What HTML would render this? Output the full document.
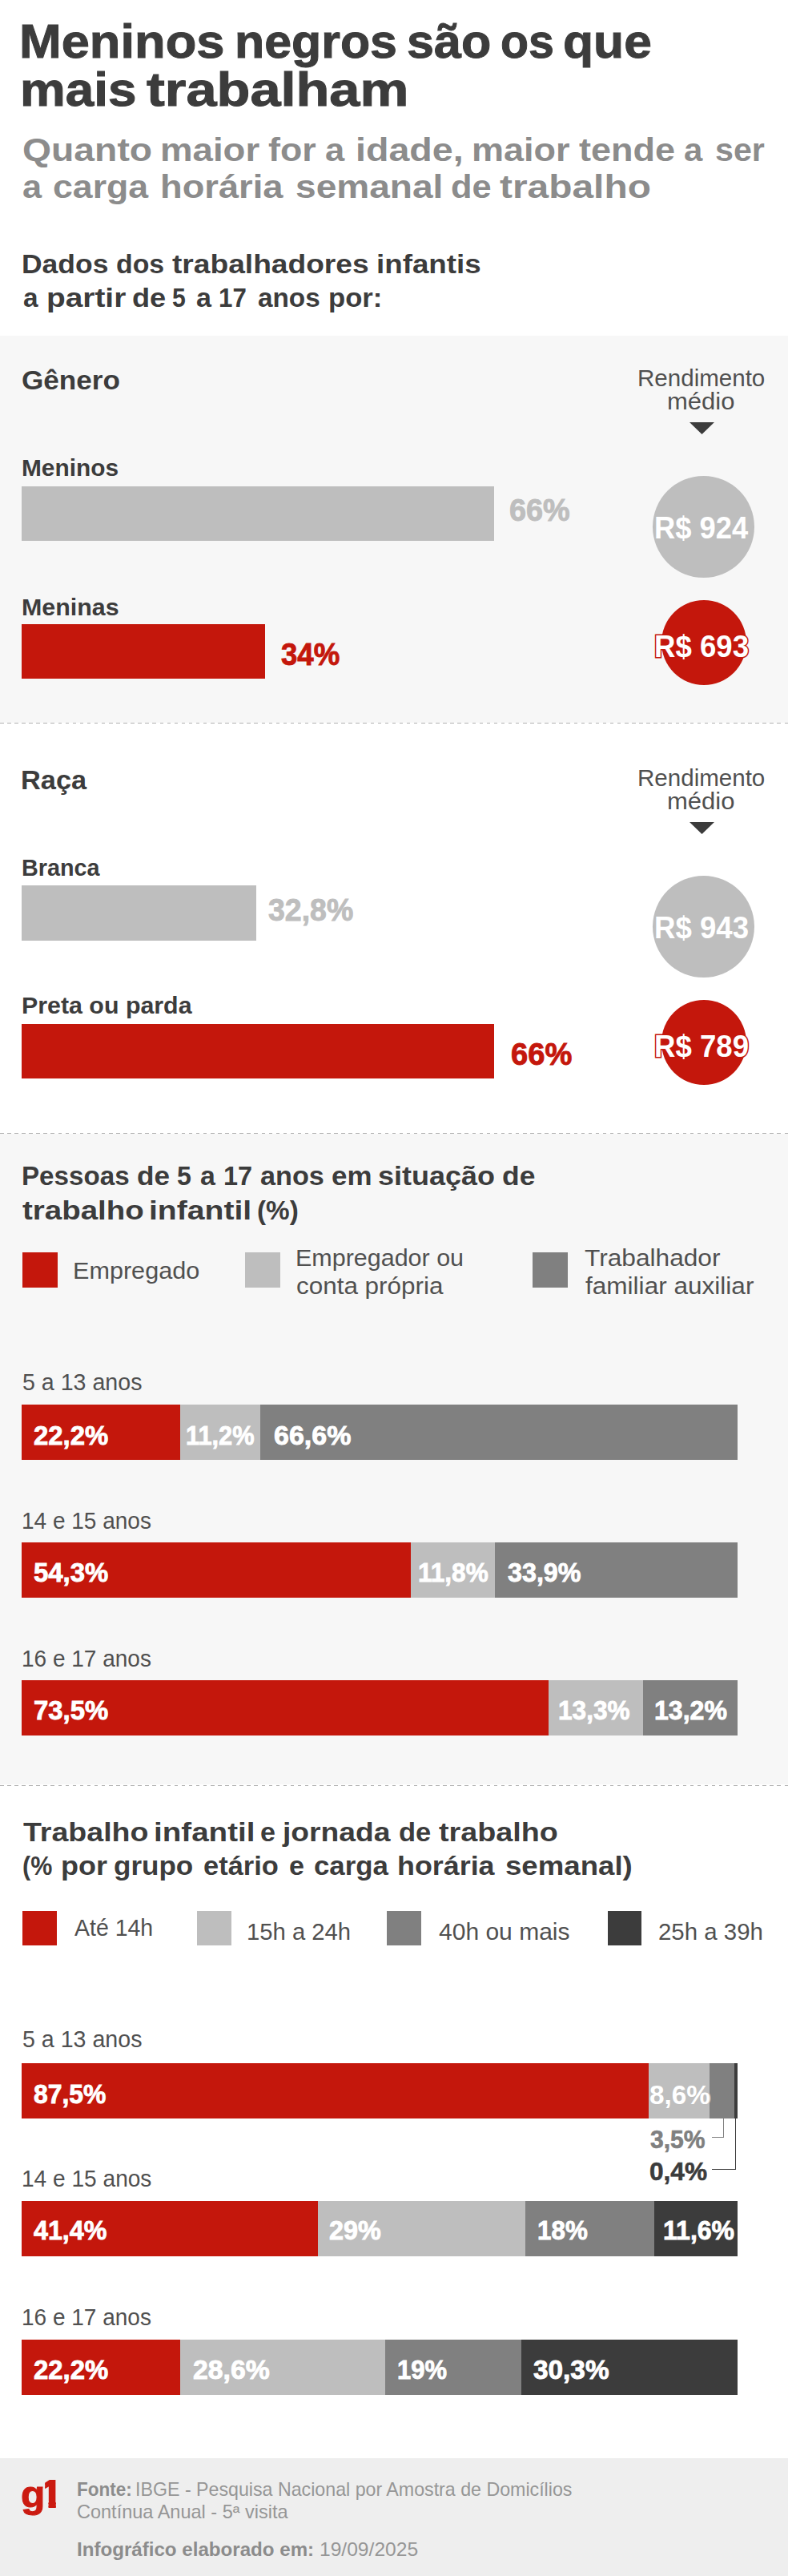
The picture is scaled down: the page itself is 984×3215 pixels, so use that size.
<!DOCTYPE html>
<html lang="pt-BR"><head><meta charset="utf-8"><title>Meninos negros são os que mais trabalham</title>
<style>
html,body{margin:0;padding:0;background:#fff}
body{width:984px;height:3215px;position:relative;overflow:hidden;font-family:'Liberation Sans', sans-serif;}
.a{position:absolute}
.c{border-radius:50%}
.t{position:absolute;white-space:pre;transform-origin:0 0;line-height:1;margin:0}
.dot{left:-0.5px;width:985px;height:1.5px;background:repeating-linear-gradient(90deg,#b2b2b2 0 4.5px,transparent 4.5px 9.07px)}
b{font-weight:bold}
</style></head><body>
<div class="a" style="left:0.0px;top:418.6px;width:984.0px;height:483.4px;background:#f7f7f7;"></div>
<div class="a" style="left:0.0px;top:1415.4px;width:984.0px;height:812.0px;background:#f7f7f7;"></div>
<div class="a" style="left:0.0px;top:3068.0px;width:984.0px;height:147.0px;background:#eeeeee;"></div>
<div class="a" style="left:27.0px;top:606.6px;width:590.0px;height:68.4px;background:#bebebe;"></div>
<div class="a" style="left:27.0px;top:778.8px;width:304.0px;height:68.7px;background:#c4170c;"></div>
<div class="a" style="left:27.0px;top:1105.3px;width:293.0px;height:68.4px;background:#bebebe;"></div>
<div class="a" style="left:27.0px;top:1277.8px;width:590.0px;height:68.7px;background:#c4170c;"></div>
<div class="a" style="left:28.0px;top:1563.0px;width:43.6px;height:43.5px;background:#c4170c;"></div>
<div class="a" style="left:306.2px;top:1563.0px;width:43.5px;height:43.5px;background:#bebebe;"></div>
<div class="a" style="left:665.1px;top:1563.0px;width:43.5px;height:43.5px;background:#808080;"></div>
<div class="a" style="left:27.0px;top:1753.4px;width:198.3px;height:68.5px;background:#c4170c;"></div>
<div class="a" style="left:225.3px;top:1753.4px;width:99.7px;height:68.5px;background:#bebebe;"></div>
<div class="a" style="left:325.0px;top:1753.4px;width:596.2px;height:68.5px;background:#808080;"></div>
<div class="a" style="left:27.0px;top:1925.1px;width:485.5px;height:68.5px;background:#c4170c;"></div>
<div class="a" style="left:512.5px;top:1925.1px;width:105.4px;height:68.5px;background:#bebebe;"></div>
<div class="a" style="left:617.9px;top:1925.1px;width:303.3px;height:68.5px;background:#808080;"></div>
<div class="a" style="left:27.0px;top:2097.2px;width:657.5px;height:68.5px;background:#c4170c;"></div>
<div class="a" style="left:684.5px;top:2097.2px;width:118.7px;height:68.5px;background:#bebebe;"></div>
<div class="a" style="left:803.2px;top:2097.2px;width:118.0px;height:68.5px;background:#808080;"></div>
<div class="a" style="left:28.3px;top:2385.4px;width:43.0px;height:43.1px;background:#c4170c;"></div>
<div class="a" style="left:246.0px;top:2385.4px;width:43.0px;height:43.1px;background:#bebebe;"></div>
<div class="a" style="left:483.3px;top:2385.4px;width:42.7px;height:43.1px;background:#808080;"></div>
<div class="a" style="left:758.7px;top:2385.4px;width:42.8px;height:43.1px;background:#3c3c3c;"></div>
<div class="a" style="left:27.0px;top:2575.4px;width:782.5px;height:68.5px;background:#c4170c;"></div>
<div class="a" style="left:809.5px;top:2575.4px;width:76.8px;height:68.5px;background:#bebebe;"></div>
<div class="a" style="left:886.3px;top:2575.4px;width:31.1px;height:68.5px;background:#808080;"></div>
<div class="a" style="left:917.4px;top:2575.4px;width:3.4px;height:68.5px;background:#3c3c3c;"></div>
<div class="a" style="left:27.0px;top:2747.4px;width:370.2px;height:68.5px;background:#c4170c;"></div>
<div class="a" style="left:397.2px;top:2747.4px;width:258.8px;height:68.5px;background:#bebebe;"></div>
<div class="a" style="left:656.0px;top:2747.4px;width:161.3px;height:68.5px;background:#808080;"></div>
<div class="a" style="left:817.3px;top:2747.4px;width:103.9px;height:68.5px;background:#3c3c3c;"></div>
<div class="a" style="left:27.0px;top:2920.2px;width:198.3px;height:68.5px;background:#c4170c;"></div>
<div class="a" style="left:225.3px;top:2920.2px;width:255.3px;height:68.5px;background:#bebebe;"></div>
<div class="a" style="left:480.6px;top:2920.2px;width:170.4px;height:68.5px;background:#808080;"></div>
<div class="a" style="left:651.0px;top:2920.2px;width:270.2px;height:68.5px;background:#3c3c3c;"></div>
<svg class="a" style="left:861px;top:527px" width="31" height="15" viewBox="0 0 31 15"><path d="M0 0H31L15.5 15Z" fill="#3c3c3c"/></svg>
<div class="a c" style="left:814.5px;top:593.5px;width:127.0px;height:127.0px;background:#bebebe"></div>
<div class="a c" style="left:825.5px;top:749.2px;width:106px;height:106px;background:#c4170c"></div>
<svg class="a" style="left:861px;top:1026px" width="31" height="15" viewBox="0 0 31 15"><path d="M0 0H31L15.5 15Z" fill="#3c3c3c"/></svg>
<div class="a c" style="left:814.5px;top:1092.5px;width:127.0px;height:127.0px;background:#bebebe"></div>
<div class="a c" style="left:825.5px;top:1248.2px;width:106px;height:106px;background:#c4170c"></div>
<div class="a dot" style="top:901.85px"></div>
<div class="a dot" style="top:1413.55px"></div>
<div class="a dot" style="top:2227.75px"></div>
<div class="a" style="left:888.5px;top:2643.5px;width:15.8px;height:24.8px;border-right:1.4px solid #808080;border-bottom:1.4px solid #808080;box-sizing:border-box"></div>
<div class="a" style="left:888.5px;top:2643.5px;width:30.8px;height:64.6px;border-right:1.4px solid #3c3c3c;border-bottom:1.4px solid #3c3c3c;box-sizing:border-box"></div>
<div class="t" style="left:50.43px;top:3087.84px;font-size:48.5px;font-weight:bold;color:#cb1a10;-webkit-text-stroke:2px #cb1a10;paint-order:stroke fill;clip-path:polygon(5.77px 0,19.37px 0,19.37px 48.5px,10.12px 48.5px,10.12px 33.71px,5.77px 33.71px)">1</div>
<div class="t" style="left:23.98px;top:22.01px;font-size:60px;color:#3c3c3c;transform:scaleX(1.0541);font-weight:bold;-webkit-text-stroke:1.0px #3c3c3c;paint-order:stroke fill;">Meninos</div>
<div class="t" style="left:292.76px;top:22.01px;font-size:60px;color:#3c3c3c;transform:scaleX(1.0145);font-weight:bold;-webkit-text-stroke:1.0px #3c3c3c;paint-order:stroke fill;">negros</div>
<div class="t" style="left:507.76px;top:22.01px;font-size:60px;color:#3c3c3c;transform:scaleX(1.0177);font-weight:bold;-webkit-text-stroke:1.0px #3c3c3c;paint-order:stroke fill;">são</div>
<div class="t" style="left:624.89px;top:22.01px;font-size:60px;color:#3c3c3c;transform:scaleX(0.9551);font-weight:bold;-webkit-text-stroke:1.0px #3c3c3c;paint-order:stroke fill;">os</div>
<div class="t" style="left:703.42px;top:22.01px;font-size:60px;color:#3c3c3c;transform:scaleX(1.0387);font-weight:bold;-webkit-text-stroke:1.0px #3c3c3c;paint-order:stroke fill;">que</div>
<div class="t" style="left:25.31px;top:82.01px;font-size:60px;color:#3c3c3c;transform:scaleX(1.0633);font-weight:bold;-webkit-text-stroke:1.0px #3c3c3c;paint-order:stroke fill;">mais</div>
<div class="t" style="left:183.00px;top:82.01px;font-size:60px;color:#3c3c3c;transform:scaleX(1.1415);font-weight:bold;-webkit-text-stroke:1.0px #3c3c3c;paint-order:stroke fill;">trabalham</div>
<div class="t" style="left:28.07px;top:167.09px;font-size:41px;color:#8c8c8c;transform:scaleX(1.1298);font-weight:bold;">Quanto</div>
<div class="t" style="left:200.38px;top:167.09px;font-size:41px;color:#8c8c8c;transform:scaleX(1.1122);font-weight:bold;">maior</div>
<div class="t" style="left:335.30px;top:167.09px;font-size:41px;color:#8c8c8c;transform:scaleX(1.0915);font-weight:bold;">for</div>
<div class="t" style="left:406.14px;top:167.09px;font-size:41px;color:#8c8c8c;transform:scaleX(1.0609);font-weight:bold;">a</div>
<div class="t" style="left:443.73px;top:167.09px;font-size:41px;color:#8c8c8c;transform:scaleX(1.1360);font-weight:bold;">idade,</div>
<div class="t" style="left:588.60px;top:167.09px;font-size:41px;color:#8c8c8c;transform:scaleX(1.0976);font-weight:bold;">maior</div>
<div class="t" style="left:723.40px;top:167.09px;font-size:41px;color:#8c8c8c;transform:scaleX(1.0972);font-weight:bold;">tende</div>
<div class="t" style="left:854.48px;top:167.09px;font-size:41px;color:#8c8c8c;transform:scaleX(1.0217);font-weight:bold;">a</div>
<div class="t" style="left:892.50px;top:167.09px;font-size:41px;color:#8c8c8c;transform:scaleX(1.0049);font-weight:bold;">ser</div>
<div class="t" style="left:27.84px;top:212.79px;font-size:41px;color:#8c8c8c;transform:scaleX(1.0565);font-weight:bold;">a</div>
<div class="t" style="left:65.91px;top:212.79px;font-size:41px;color:#8c8c8c;transform:scaleX(1.0894);font-weight:bold;">carga</div>
<div class="t" style="left:200.19px;top:212.79px;font-size:41px;color:#8c8c8c;transform:scaleX(1.1042);font-weight:bold;">horária</div>
<div class="t" style="left:368.78px;top:212.79px;font-size:41px;color:#8c8c8c;transform:scaleX(1.1238);font-weight:bold;">semanal</div>
<div class="t" style="left:563.14px;top:212.79px;font-size:41px;color:#8c8c8c;transform:scaleX(1.0577);font-weight:bold;">de</div>
<div class="t" style="left:624.30px;top:212.79px;font-size:41px;color:#8c8c8c;transform:scaleX(1.1681);font-weight:bold;">trabalho</div>
<div class="t" style="left:26.98px;top:312.84px;font-size:33.5px;color:#3c3c3c;transform:scaleX(1.0586);font-weight:bold;">Dados</div>
<div class="t" style="left:145.49px;top:312.84px;font-size:33.5px;color:#3c3c3c;transform:scaleX(1.0099);font-weight:bold;">dos</div>
<div class="t" style="left:214.70px;top:312.84px;font-size:33.5px;color:#3c3c3c;transform:scaleX(1.1086);font-weight:bold;">trabalhadores</div>
<div class="t" style="left:469.61px;top:312.84px;font-size:33.5px;color:#3c3c3c;transform:scaleX(1.0971);font-weight:bold;">infantis</div>
<div class="t" style="left:28.50px;top:355.04px;font-size:33.5px;color:#3c3c3c;transform:scaleX(0.9947);font-weight:bold;">a</div>
<div class="t" style="left:58.28px;top:355.04px;font-size:33.5px;color:#3c3c3c;transform:scaleX(1.1592);font-weight:bold;">partir</div>
<div class="t" style="left:165.42px;top:355.04px;font-size:33.5px;color:#3c3c3c;transform:scaleX(1.0811);font-weight:bold;">de</div>
<div class="t" style="left:215.20px;top:355.04px;font-size:33.5px;color:#3c3c3c;transform:scaleX(0.9000);font-weight:bold;">5</div>
<div class="t" style="left:244.60px;top:355.04px;font-size:33.5px;color:#3c3c3c;transform:scaleX(1.0158);font-weight:bold;">a</div>
<div class="t" style="left:273.13px;top:355.04px;font-size:33.5px;color:#3c3c3c;transform:scaleX(0.9327);font-weight:bold;">17</div>
<div class="t" style="left:321.50px;top:355.04px;font-size:33.5px;color:#3c3c3c;transform:scaleX(0.9941);font-weight:bold;">anos</div>
<div class="t" style="left:409.73px;top:355.04px;font-size:33.5px;color:#3c3c3c;transform:scaleX(1.0340);font-weight:bold;">por:</div>
<div class="t" style="left:26.92px;top:459.29px;font-size:32.5px;color:#3c3c3c;transform:scaleX(1.0810);font-weight:bold;">Gênero</div>
<div class="t" style="left:795.60px;top:457.03px;font-size:29.5px;color:#505050;transform:scaleX(1.0015);font-weight:normal;">Rendimento</div>
<div class="t" style="left:833.45px;top:486.43px;font-size:29.5px;color:#505050;transform:scaleX(1.0514);font-weight:normal;">médio</div>
<div class="t" style="left:26.57px;top:570.35px;font-size:29px;color:#3c3c3c;transform:scaleX(1.0296);font-weight:bold;">Meninos</div>
<div class="t" style="left:636.00px;top:618.33px;font-size:38px;color:#bebebe;transform:scaleX(0.9964);font-weight:bold;-webkit-text-stroke:0.9px #bebebe;paint-order:stroke fill;">66%</div>
<div class="t" style="left:26.55px;top:743.85px;font-size:29px;color:#3c3c3c;transform:scaleX(1.0483);font-weight:bold;">Meninas</div>
<div class="t" style="left:351.00px;top:797.63px;font-size:38px;color:#c4170c;transform:scaleX(0.9632);font-weight:bold;-webkit-text-stroke:0.9px #c4170c;paint-order:stroke fill;">34%</div>
<div class="t" style="left:817.14px;top:639.39px;font-size:39px;color:#fff;transform:scaleX(0.9309);font-weight:bold;-webkit-text-stroke:2px #bebebe;paint-order:stroke fill;">R$ 924</div>
<div class="t" style="left:817.12px;top:787.09px;font-size:39px;color:#fff;transform:scaleX(0.9385);font-weight:bold;-webkit-text-stroke:3.2px #c4170c;paint-order:stroke fill;">R$ 693</div>
<div class="t" style="left:25.89px;top:958.29px;font-size:32.5px;color:#3c3c3c;transform:scaleX(1.0572);font-weight:bold;">Raça</div>
<div class="t" style="left:795.60px;top:956.03px;font-size:29.5px;color:#505050;transform:scaleX(1.0015);font-weight:normal;">Rendimento</div>
<div class="t" style="left:833.45px;top:985.43px;font-size:29.5px;color:#505050;transform:scaleX(1.0514);font-weight:normal;">médio</div>
<div class="t" style="left:26.61px;top:1068.65px;font-size:29px;color:#3c3c3c;transform:scaleX(0.9919);font-weight:bold;">Branca</div>
<div class="t" style="left:334.60px;top:1117.33px;font-size:38px;color:#bebebe;transform:scaleX(0.9854);font-weight:bold;-webkit-text-stroke:0.9px #bebebe;paint-order:stroke fill;">32,8%</div>
<div class="t" style="left:26.55px;top:1241.05px;font-size:29px;color:#3c3c3c;transform:scaleX(1.0467);font-weight:bold;">Preta ou parda</div>
<div class="t" style="left:637.50px;top:1296.63px;font-size:38px;color:#c4170c;transform:scaleX(1.0031);font-weight:bold;-webkit-text-stroke:0.9px #c4170c;paint-order:stroke fill;">66%</div>
<div class="t" style="left:817.12px;top:1138.39px;font-size:39px;color:#fff;transform:scaleX(0.9385);font-weight:bold;-webkit-text-stroke:2px #bebebe;paint-order:stroke fill;">R$ 943</div>
<div class="t" style="left:817.12px;top:1286.09px;font-size:39px;color:#fff;transform:scaleX(0.9385);font-weight:bold;-webkit-text-stroke:3.2px #c4170c;paint-order:stroke fill;">R$ 789</div>
<div class="t" style="left:27.12px;top:1451.44px;font-size:33.5px;color:#3c3c3c;transform:scaleX(0.9900);font-weight:bold;">Pessoas</div>
<div class="t" style="left:171.45px;top:1451.44px;font-size:33.5px;color:#3c3c3c;transform:scaleX(1.0490);font-weight:bold;">de</div>
<div class="t" style="left:220.94px;top:1451.44px;font-size:33.5px;color:#3c3c3c;transform:scaleX(0.9588);font-weight:bold;">5</div>
<div class="t" style="left:250.40px;top:1451.44px;font-size:33.5px;color:#3c3c3c;transform:scaleX(1.0105);font-weight:bold;">a</div>
<div class="t" style="left:278.87px;top:1451.44px;font-size:33.5px;color:#3c3c3c;transform:scaleX(0.9673);font-weight:bold;">17</div>
<div class="t" style="left:325.40px;top:1451.44px;font-size:33.5px;color:#3c3c3c;transform:scaleX(1.0212);font-weight:bold;">anos</div>
<div class="t" style="left:413.66px;top:1451.44px;font-size:33.5px;color:#3c3c3c;transform:scaleX(1.0431);font-weight:bold;">em</div>
<div class="t" style="left:472.43px;top:1451.44px;font-size:33.5px;color:#3c3c3c;transform:scaleX(1.0740);font-weight:bold;">situação</div>
<div class="t" style="left:626.94px;top:1451.44px;font-size:33.5px;color:#3c3c3c;transform:scaleX(1.0570);font-weight:bold;">de</div>
<div class="t" style="left:28.10px;top:1493.94px;font-size:33.5px;color:#3c3c3c;transform:scaleX(1.1482);font-weight:bold;">trabalho</div>
<div class="t" style="left:186.07px;top:1493.94px;font-size:33.5px;color:#3c3c3c;transform:scaleX(1.1670);font-weight:bold;">infantil</div>
<div class="t" style="left:320.91px;top:1493.94px;font-size:33.5px;color:#3c3c3c;transform:scaleX(0.9931);font-weight:bold;">(%)</div>
<div class="t" style="left:90.93px;top:1571.23px;font-size:29.5px;color:#505050;transform:scaleX(1.0373);font-weight:normal;">Empregado</div>
<div class="t" style="left:369.43px;top:1554.73px;font-size:29.5px;color:#505050;transform:scaleX(1.0328);font-weight:normal;">Empregador ou</div>
<div class="t" style="left:369.93px;top:1590.23px;font-size:29.5px;color:#505050;transform:scaleX(1.0653);font-weight:normal;">conta própria</div>
<div class="t" style="left:729.50px;top:1554.73px;font-size:29.5px;color:#505050;transform:scaleX(1.0730);font-weight:normal;">Trabalhador</div>
<div class="t" style="left:730.80px;top:1590.23px;font-size:29.5px;color:#505050;transform:scaleX(1.0696);font-weight:normal;">familiar auxiliar</div>
<div class="t" style="left:27.51px;top:1711.25px;font-size:29px;color:#505050;transform:scaleX(0.9862);font-weight:normal;">5 a 13 anos</div>
<div class="t" style="left:41.83px;top:1773.62px;font-size:34px;color:#fff;transform:scaleX(0.9667);font-weight:bold;-webkit-text-stroke:0.9px #fff;paint-order:stroke fill;">22,2%</div>
<div class="t" style="left:231.69px;top:1773.62px;font-size:34px;color:#fff;transform:scaleX(0.9047);font-weight:bold;-webkit-text-stroke:0.9px #fff;paint-order:stroke fill;">11,2%</div>
<div class="t" style="left:341.60px;top:1773.62px;font-size:34px;color:#fff;transform:scaleX(1.0003);font-weight:bold;-webkit-text-stroke:0.9px #fff;paint-order:stroke fill;">66,6%</div>
<div class="t" style="left:26.57px;top:1883.55px;font-size:29px;color:#505050;transform:scaleX(0.9655);font-weight:normal;">14 e 15 anos</div>
<div class="t" style="left:41.83px;top:1945.32px;font-size:34px;color:#fff;transform:scaleX(0.9667);font-weight:bold;-webkit-text-stroke:0.9px #fff;paint-order:stroke fill;">54,3%</div>
<div class="t" style="left:522.15px;top:1945.32px;font-size:34px;color:#fff;transform:scaleX(0.9274);font-weight:bold;-webkit-text-stroke:0.9px #fff;paint-order:stroke fill;">11,8%</div>
<div class="t" style="left:633.70px;top:1945.32px;font-size:34px;color:#fff;transform:scaleX(0.9493);font-weight:bold;-webkit-text-stroke:0.9px #fff;paint-order:stroke fill;">33,9%</div>
<div class="t" style="left:26.57px;top:2055.75px;font-size:29px;color:#505050;transform:scaleX(0.9655);font-weight:normal;">16 e 17 anos</div>
<div class="t" style="left:41.83px;top:2117.42px;font-size:34px;color:#fff;transform:scaleX(0.9667);font-weight:bold;-webkit-text-stroke:0.9px #fff;paint-order:stroke fill;">73,5%</div>
<div class="t" style="left:696.64px;top:2117.42px;font-size:34px;color:#fff;transform:scaleX(0.9291);font-weight:bold;-webkit-text-stroke:0.9px #fff;paint-order:stroke fill;">13,3%</div>
<div class="t" style="left:816.51px;top:2117.42px;font-size:34px;color:#fff;transform:scaleX(0.9429);font-weight:bold;-webkit-text-stroke:0.9px #fff;paint-order:stroke fill;">13,2%</div>
<div class="t" style="left:28.50px;top:2270.44px;font-size:33.5px;color:#3c3c3c;transform:scaleX(1.1204);font-weight:bold;">Trabalho</div>
<div class="t" style="left:192.20px;top:2270.44px;font-size:33.5px;color:#3c3c3c;transform:scaleX(1.1518);font-weight:bold;">infantil</div>
<div class="t" style="left:325.38px;top:2270.44px;font-size:33.5px;color:#3c3c3c;transform:scaleX(1.0176);font-weight:bold;">e</div>
<div class="t" style="left:352.91px;top:2270.44px;font-size:33.5px;color:#3c3c3c;transform:scaleX(1.1106);font-weight:bold;">jornada</div>
<div class="t" style="left:497.87px;top:2270.44px;font-size:33.5px;color:#3c3c3c;transform:scaleX(1.0303);font-weight:bold;">de</div>
<div class="t" style="left:547.60px;top:2270.44px;font-size:33.5px;color:#3c3c3c;transform:scaleX(1.1261);font-weight:bold;">trabalho</div>
<div class="t" style="left:28.19px;top:2312.44px;font-size:33.5px;color:#3c3c3c;transform:scaleX(0.9092);font-weight:bold;">(%</div>
<div class="t" style="left:75.75px;top:2312.44px;font-size:33.5px;color:#3c3c3c;transform:scaleX(1.0746);font-weight:bold;">por</div>
<div class="t" style="left:142.45px;top:2312.44px;font-size:33.5px;color:#3c3c3c;transform:scaleX(1.0457);font-weight:bold;">grupo</div>
<div class="t" style="left:254.37px;top:2312.44px;font-size:33.5px;color:#3c3c3c;transform:scaleX(1.0283);font-weight:bold;">etário</div>
<div class="t" style="left:360.88px;top:2312.44px;font-size:33.5px;color:#3c3c3c;transform:scaleX(1.0176);font-weight:bold;">e</div>
<div class="t" style="left:392.36px;top:2312.44px;font-size:33.5px;color:#3c3c3c;transform:scaleX(1.0399);font-weight:bold;">carga</div>
<div class="t" style="left:495.76px;top:2312.44px;font-size:33.5px;color:#3c3c3c;transform:scaleX(1.0702);font-weight:bold;">horária</div>
<div class="t" style="left:630.51px;top:2312.44px;font-size:33.5px;color:#3c3c3c;transform:scaleX(1.0931);font-weight:bold;">semanal)</div>
<div class="t" style="left:93.30px;top:2392.05px;font-size:29px;color:#505050;transform:scaleX(0.9824);font-weight:normal;">Até 14h</div>
<div class="t" style="left:307.58px;top:2396.55px;font-size:29px;color:#505050;transform:scaleX(1.0081);font-weight:normal;">15h a 24h</div>
<div class="t" style="left:547.50px;top:2396.55px;font-size:29px;color:#505050;transform:scaleX(1.0350);font-weight:normal;">40h ou mais</div>
<div class="t" style="left:822.48px;top:2396.55px;font-size:29px;color:#505050;transform:scaleX(1.0151);font-weight:normal;">25h a 39h</div>
<div class="t" style="left:27.51px;top:2531.45px;font-size:29px;color:#505050;transform:scaleX(0.9862);font-weight:normal;">5 a 13 anos</div>
<div class="t" style="left:41.86px;top:2595.62px;font-size:34px;color:#fff;transform:scaleX(0.9372);font-weight:bold;-webkit-text-stroke:0.9px #fff;paint-order:stroke fill;">87,5%</div>
<div class="t" style="left:811.42px;top:2597.12px;font-size:34px;color:#fff;transform:scaleX(0.9782);font-weight:bold;-webkit-text-stroke:3.0px #bebebe;paint-order:stroke fill;">8,6%</div>
<div class="t" style="left:812.40px;top:2654.21px;font-size:32px;color:#808080;transform:scaleX(0.9409);font-weight:bold;-webkit-text-stroke:0.6px #808080;paint-order:stroke fill;">3,5%</div>
<div class="t" style="left:811.41px;top:2693.91px;font-size:32px;color:#3c3c3c;transform:scaleX(0.9876);font-weight:bold;-webkit-text-stroke:0.6px #3c3c3c;paint-order:stroke fill;">0,4%</div>
<div class="t" style="left:26.56px;top:2705.25px;font-size:29px;color:#505050;transform:scaleX(0.9685);font-weight:normal;">14 e 15 anos</div>
<div class="t" style="left:42.00px;top:2765.82px;font-size:34px;color:#fff;transform:scaleX(0.9483);font-weight:bold;-webkit-text-stroke:0.9px #fff;paint-order:stroke fill;">41,4%</div>
<div class="t" style="left:411.45px;top:2765.82px;font-size:34px;color:#fff;transform:scaleX(0.9518);font-weight:bold;-webkit-text-stroke:0.9px #fff;paint-order:stroke fill;">29%</div>
<div class="t" style="left:670.86px;top:2765.82px;font-size:34px;color:#fff;transform:scaleX(0.9222);font-weight:bold;-webkit-text-stroke:0.9px #fff;paint-order:stroke fill;">18%</div>
<div class="t" style="left:828.11px;top:2765.82px;font-size:34px;color:#fff;transform:scaleX(0.9426);font-weight:bold;-webkit-text-stroke:0.9px #fff;paint-order:stroke fill;">11,6%</div>
<div class="t" style="left:26.57px;top:2878.25px;font-size:29px;color:#505050;transform:scaleX(0.9655);font-weight:normal;">16 e 17 anos</div>
<div class="t" style="left:41.83px;top:2940.42px;font-size:34px;color:#fff;transform:scaleX(0.9667);font-weight:bold;-webkit-text-stroke:0.9px #fff;paint-order:stroke fill;">22,2%</div>
<div class="t" style="left:240.81px;top:2940.42px;font-size:34px;color:#fff;transform:scaleX(0.9929);font-weight:bold;-webkit-text-stroke:0.9px #fff;paint-order:stroke fill;">28,6%</div>
<div class="t" style="left:496.38px;top:2940.42px;font-size:34px;color:#fff;transform:scaleX(0.9116);font-weight:bold;-webkit-text-stroke:0.9px #fff;paint-order:stroke fill;">19%</div>
<div class="t" style="left:666.40px;top:2940.42px;font-size:34px;color:#fff;transform:scaleX(0.9805);font-weight:bold;-webkit-text-stroke:0.9px #fff;paint-order:stroke fill;">30,3%</div>
<div class="t" style="left:25.83px;top:3090.34px;font-size:46.5px;color:#cb1a10;transform:scaleX(1.0680);font-weight:bold;-webkit-text-stroke:1.0px #cb1a10;paint-order:stroke fill;">g</div>
<div class="t" style="left:96.33px;top:3095.76px;font-size:23.2px;color:#8c8c8c;transform:scaleX(0.9720);font-weight:bold;">Fonte:</div>
<div class="t" style="left:169.20px;top:3095.76px;font-size:23.2px;color:#969696;transform:scaleX(1.0005);font-weight:normal;">IBGE - Pesquisa Nacional por Amostra de Domicílios</div>
<div class="t" style="left:96.49px;top:3124.46px;font-size:23.2px;color:#969696;transform:scaleX(1.0138);font-weight:normal;">Contínua Anual - 5ª visita</div>
<div class="t" style="left:96.46px;top:3171.16px;font-size:23.2px;color:#8c8c8c;transform:scaleX(1.0401);font-weight:bold;">Infográfico elaborado em:</div>
<div class="t" style="left:398.54px;top:3171.16px;font-size:23.2px;color:#969696;transform:scaleX(1.0608);font-weight:normal;">19/09/2025</div>
</body></html>
